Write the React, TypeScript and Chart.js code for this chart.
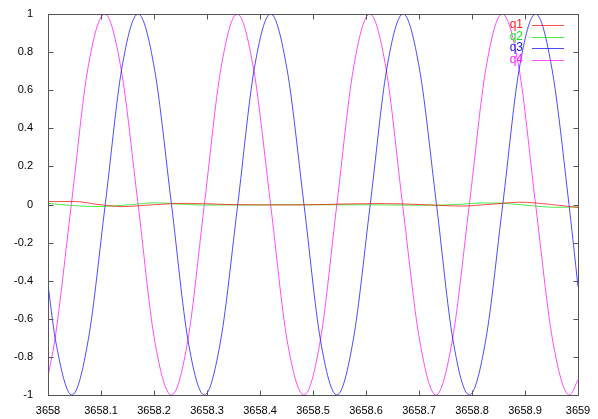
import React, { useEffect, useRef } from "react";
import { Chart, registerables } from "chart.js";

Chart.register(...registerables);

// ---- data ----
const xTickValues = [3658, 3658.1, 3658.2, 3658.3, 3658.4, 3658.5, 3658.6, 3658.7, 3658.8, 3658.9, 3659];
const xTickLabels = ["3658", "3658.1", "3658.2", "3658.3", "3658.4", "3658.5", "3658.6", "3658.7", "3658.8", "3658.9", "3659"];
const yTickValues = [-1, -0.8, -0.6, -0.4, -0.2, 0, 0.2, 0.4, 0.6, 0.8, 1];
const yTickLabels = ["-1", "-0.8", "-0.6", "-0.4", "-0.2", "0", "0.2", "0.4", "0.6", "0.8", "1"];

const seriesNames = ["q1", "q2", "q3", "q4"];
const seriesColors = ["rgba(255,0,0,0.7)", "rgba(0,230,0,0.7)", "rgba(0,0,255,0.7)", "rgba(255,0,255,0.7)"];
const legendTextColors = ["#ff2020", "#20e020", "#2020ff", "#ff20ff"];

const q1X = [3658.0, 3658.05, 3658.09, 3658.14, 3658.205, 3658.26, 3658.34, 3658.4, 3658.48, 3658.55, 3658.63, 3658.7, 3658.78, 3658.83, 3658.89, 3658.95, 3659.0];
const q1Y = [0.015, 0.016, 0.002, -0.011, 0.0, 0.006, 0.0, -0.002, -0.002, 0.002, 0.005, 0.0, -0.008, 0.0, 0.012, 0.0, -0.016];

const q2X = [3658.0, 3658.04, 3658.09, 3658.13, 3658.16, 3658.2, 3658.24, 3658.29, 3658.4, 3658.5, 3658.62, 3658.72, 3658.77, 3658.82, 3658.86, 3658.91, 3658.96, 3659.0];
const q2Y = [0.006, -0.004, -0.011, -0.006, 0.0, 0.009, 0.004, -0.003, -0.002, -0.001, -0.002, -0.004, 0.0, 0.008, 0.006, -0.006, -0.015, -0.012];

const q3X = [3658.0, 3658.014, 3658.045, 3658.076, 3658.108, 3658.139, 3658.17, 3658.201, 3658.233, 3658.264, 3658.295, 3658.326, 3658.358, 3658.389, 3658.42, 3658.451, 3658.483, 3658.514, 3658.545, 3658.576, 3658.608, 3658.639, 3658.67, 3658.701, 3658.733, 3658.764, 3658.795, 3658.826, 3658.858, 3658.889, 3658.92, 3658.951, 3658.983, 3659.0];
const q3Y = [-0.42, -0.71, -1, -0.71, 0, 0.71, 1, 0.71, 0, -0.71, -1, -0.71, 0, 0.71, 1, 0.71, 0, -0.71, -1, -0.71, 0, 0.71, 1, 0.71, 0, -0.71, -1, -0.71, 0, 0.71, 1, 0.71, 0, -0.43];

const q4X = [3658.0, 3658.013, 3658.044, 3658.075, 3658.107, 3658.138, 3658.17, 3658.201, 3658.233, 3658.264, 3658.295, 3658.326, 3658.357, 3658.388, 3658.42, 3658.451, 3658.483, 3658.514, 3658.545, 3658.576, 3658.607, 3658.638, 3658.669, 3658.701, 3658.732, 3658.763, 3658.795, 3658.826, 3658.857, 3658.889, 3658.92, 3658.952, 3658.984, 3659.0];
const q4Y = [-0.9, -0.71, 0, 0.71, 1, 0.71, 0, -0.71, -1, -0.71, 0, 0.71, 1, 0.71, 0, -0.71, -1, -0.71, 0, 0.71, 1, 0.71, 0, -0.71, -1, -0.71, 0, 0.71, 1, 0.71, 0, -0.71, -1, -0.92];

const seriesX = [q1X, q2X, q3X, q4X];
const seriesY = [q1Y, q2Y, q3Y, q4Y];

const FONT = '"Liberation Sans", Arial, Helvetica, sans-serif';

const framePlugin = {
  id: "gnuframe",
  afterDatasetsDraw(chart: any) {
    const { ctx, chartArea } = chart;
    const xs = chart.scales.x;
    const ys = chart.scales.y;
    const L = Math.round(chartArea.left) + 0.5;
    const R = Math.round(chartArea.right) + 0.5;
    const T = Math.round(chartArea.top) + 0.5;
    const B = Math.round(chartArea.bottom) + 0.5;
    const TL = 5;
    ctx.save();
    ctx.strokeStyle = "#555555";
    ctx.lineWidth = 1;
    ctx.beginPath();
    for (const v of xTickValues) {
      const p = Math.round(xs.getPixelForValue(v)) + 0.5;
      ctx.moveTo(p, B);
      ctx.lineTo(p, B - TL);
      ctx.moveTo(p, T);
      ctx.lineTo(p, T + TL);
    }
    for (const v of yTickValues) {
      const p = Math.round(ys.getPixelForValue(v)) + 0.5;
      ctx.moveTo(L, p);
      ctx.lineTo(L + TL, p);
      ctx.moveTo(R, p);
      ctx.lineTo(R - TL, p);
    }
    ctx.stroke();
    ctx.strokeRect(L, T, R - L, B - T);
    ctx.restore();
  },
  afterDraw(chart: any) {
    const { ctx, chartArea } = chart;
    ctx.save();
    ctx.font = "12px " + FONT;
    ctx.textAlign = "right";
    ctx.textBaseline = "middle";
    seriesNames.forEach((name, i) => {
      const y = chartArea.top + 11 + i * 11.5;
      ctx.fillStyle = legendTextColors[i];
      ctx.fillText(name, chartArea.right - 55, y);
      ctx.strokeStyle = seriesColors[i];
      ctx.lineWidth = 1;
      ctx.beginPath();
      ctx.moveTo(chartArea.right - 46, Math.round(y) + 0.5);
      ctx.lineTo(chartArea.right - 14, Math.round(y) + 0.5);
      ctx.stroke();
    });
    ctx.restore();
  },
};

export default function App() {
  const ref = useRef<HTMLCanvasElement | null>(null);
  useEffect(() => {
    if (!ref.current) return;
    Chart.defaults.font.family = FONT;
    const chart = new Chart(ref.current, {
      type: "line",
      data: {
        datasets: seriesNames.map((name, i) => ({
          label: name,
          data: seriesX[i].map((x, j) => ({ x, y: seriesY[i][j] })),
          borderColor: seriesColors[i],
          backgroundColor: seriesColors[i],
          borderWidth: 1,
          pointRadius: 0,
          fill: false,
          cubicInterpolationMode: "monotone" as const,
        })),
      },
      options: {
        responsive: false,
        animation: false,
        devicePixelRatio: 1,
        layout: { padding: { top: 14, right: 20, left: 0, bottom: 0 } },
        plugins: { legend: { display: false }, tooltip: { enabled: false } },
        scales: {
          x: {
            type: "linear",
            min: 3658,
            max: 3659,
            grid: { display: false },
            border: { display: false },
            afterBuildTicks: (s: any) => {
              s.ticks = xTickValues.map((v) => ({ value: v }));
            },
            afterFit: (s: any) => {
              s.height = 24;
            },
            ticks: {
              padding: 1,
              autoSkip: false,
              maxRotation: 0,
              color: "#000",
              font: { size: 11, family: FONT },
              callback: (_v: any, idx: number) => xTickLabels[idx],
            },
          },
          y: {
            type: "linear",
            min: -1,
            max: 1,
            grid: { display: false },
            border: { display: false },
            afterBuildTicks: (s: any) => {
              s.ticks = yTickValues.map((v) => ({ value: v }));
            },
            afterFit: (s: any) => {
              s.width = 48;
            },
            ticks: {
              padding: 7,
              autoSkip: false,
              color: "#000",
              font: { size: 11, family: FONT },
              callback: (_v: any, idx: number) => yTickLabels[idx],
            },
          },
        },
      },
      plugins: [framePlugin],
    });
    return () => chart.destroy();
  }, []);
  return (
    <div style={{ position: "fixed", left: 0, top: 0, width: 598, height: 419, background: "#fff" }}>
      <canvas ref={ref} width={598} height={419} />
    </div>
  );
}
